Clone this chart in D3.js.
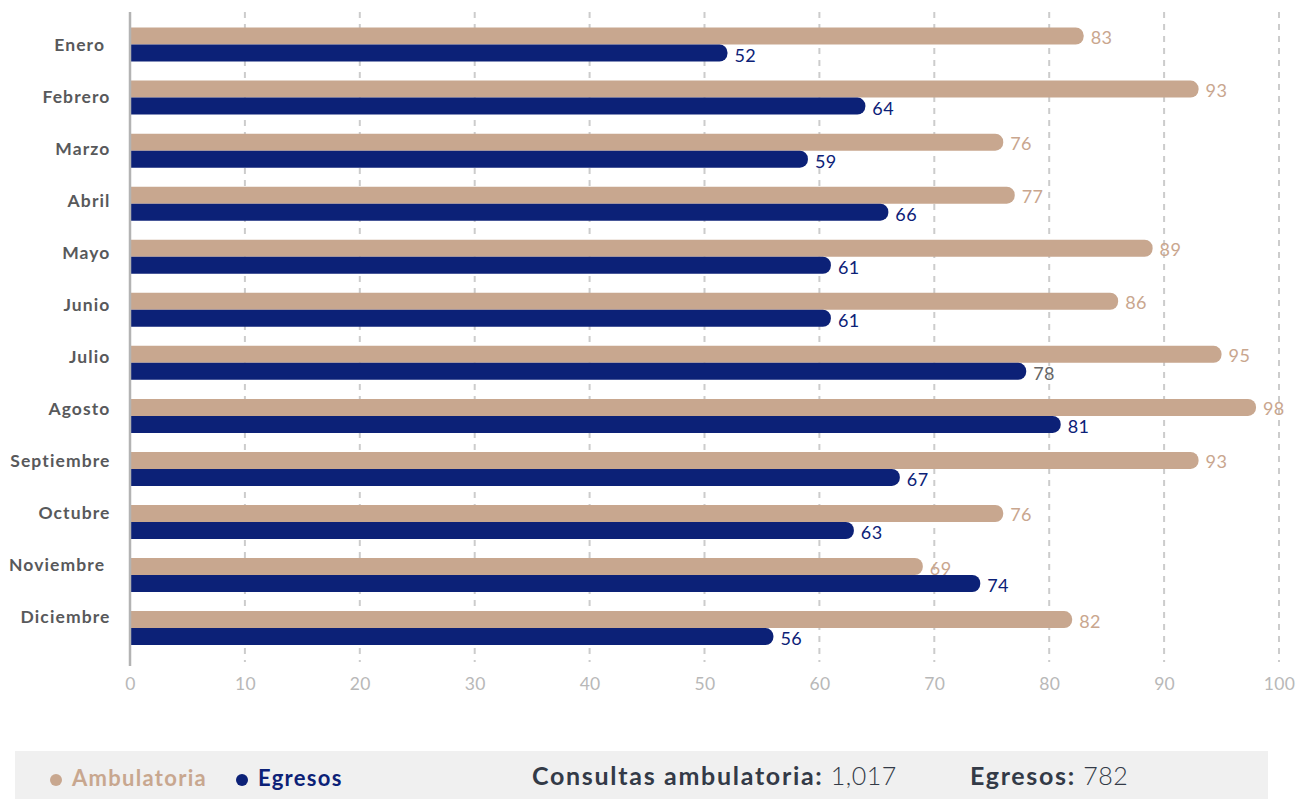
<!DOCTYPE html>
<html>
<head>
<meta charset="utf-8">
<script src="https://cdn.jsdelivr.net/npm/d3@7"></script>
<style>
  html, body { margin: 0; padding: 0; background: #fff; }
  svg { display: block; font-family: Lato, "Open Sans", sans-serif; }
  .cat { white-space: pre; }
</style>
</head>
<body>
<svg id="chart" width="1305" height="799"></svg>
<script>
const months = ["Enero ", "Febrero", "Marzo", "Abril", "Mayo", "Junio", "Julio", "Agosto", "Septiembre", "Octubre", "Noviembre ", "Diciembre"];
const ambulatoria = [83, 93, 76, 77, 89, 86, 95, 98, 93, 76, 69, 82];
const egresos = [52, 64, 59, 66, 61, 61, 78, 81, 67, 63, 74, 56];
const xTicks = [0, 10, 20, 30, 40, 50, 60, 70, 80, 90, 100];
const seriesNames = ["Ambulatoria", "Egresos"];
const totalLabels = ["Consultas ambulatoria:", "Egresos:"];

const TAN = "#c8a78f", NAVY = "#0c2177", LABEL_TAN = "#c9a68e";

const svg = d3.select("#chart");

const x = d3.scaleLinear().domain([0, 100]).range([130, 1279]);
const y = d3.scaleBand().domain(months).range([18, 654.6]).padding(0);
const yLab = d3.scalePoint().domain(months).range([45, 617]);
const barH = 17;

// gridlines
svg.append("g").selectAll("line").data(xTicks.filter(d => d > 0)).join("line")
  .attr("x1", d => x(d)).attr("x2", d => x(d))
  .attr("y1", 12).attr("y2", 662)
  .attr("stroke", "#cccccc").attr("stroke-width", 2)
  .attr("stroke-dasharray", "6,6");

// x axis tick labels
const xAxis = d3.axisBottom(x).tickValues(xTicks).tickSize(0).tickPadding(0);
const gx = svg.append("g").attr("transform", "translate(0,678)").call(xAxis);
gx.select(".domain").remove();
gx.selectAll("text").attr("font-size", 17.5).attr("fill", "#b8b8b8")
  .attr("font-family", "Lato, sans-serif").attr("font-weight", 400)
  .attr("letter-spacing", 0.3);

// bar path with rounded right end
function barPath(x0, x1, yTop, h, r) {
  r = Math.min(r, (x1 - x0));
  return `M${x0},${yTop}H${x1 - r}A${r},${r} 0 0 1 ${x1},${yTop + r}V${yTop + h - r}A${r},${r} 0 0 1 ${x1 - r},${yTop + h}H${x0}Z`;
}

const rows = months.map((m, i) => ({ m, a: ambulatoria[i], e: egresos[i], i }));

const g = svg.append("g");
// ambulatoria bars
g.selectAll(".ba").data(rows).join("path").attr("class", "ba")
  .attr("d", d => barPath(x(0), x(d.a), y(d.m) + y.bandwidth() / 2 - barH, barH, 8))
  .attr("fill", TAN);
// egresos bars
g.selectAll(".be").data(rows).join("path").attr("class", "be")
  .attr("d", d => barPath(x(0), x(d.e), y(d.m) + y.bandwidth() / 2, barH, 8))
  .attr("fill", NAVY);

// value labels
g.selectAll(".la").data(rows).join("text").attr("class", "la")
  .attr("x", d => x(d.a) + 7)
  .attr("y", d => y(d.m) + y.bandwidth() / 2 - barH / 2 + 8)
  .attr("font-size", 18).attr("fill", LABEL_TAN).attr("font-weight", 400)
  .attr("letter-spacing", 0.4)
  .text(d => d.a);
g.selectAll(".le").data(rows).join("text").attr("class", "le")
  .attr("x", d => x(d.e) + 7)
  .attr("y", d => y(d.m) + y.bandwidth() / 2 + barH / 2 + 8.5)
  .attr("font-size", 18).attr("fill", d => d.i === 6 ? "#666666" : NAVY).attr("font-weight", 400)
  .attr("letter-spacing", 0.4)
  .text(d => d.e);

// category labels
g.selectAll(".cat").data(rows).join("text").attr("class", "cat")
  .attr("x", 110.5).attr("y", d => yLab(d.m) + 6.3)
  .attr("text-anchor", "end")
  .attr("font-size", 17.5).attr("font-weight", 700).attr("fill", "#58595b")
  .attr("letter-spacing", 1.1)
  .text(d => d.m);

// y axis line
svg.append("line").attr("x1", x(0)).attr("x2", x(0)).attr("y1", 12).attr("y2", 666)
  .attr("stroke", "#b3b3b3").attr("stroke-width", 2.5);

// legend box
svg.append("rect").attr("x", 15).attr("y", 751).attr("width", 1253).attr("height", 48)
  .attr("fill", "#f0f0f0");

const leg = svg.append("g");
const legItems = [
  { name: seriesNames[0], color: TAN, cx: 56, tx: 72 },
  { name: seriesNames[1], color: NAVY, cx: 242, tx: 258 }
];
leg.selectAll("circle").data(legItems).join("circle")
  .attr("cx", d => d.cx).attr("cy", 780).attr("r", 6).attr("fill", d => d.color);
leg.selectAll("text").data(legItems).join("text")
  .attr("x", d => d.tx).attr("y", 786)
  .attr("font-size", 22).attr("font-weight", 700).attr("fill", d => d.color)
  .attr("letter-spacing", 1.3)
  .text(d => d.name);

const totals = [
  { label: totalLabels[0], value: d3.format(",")(d3.sum(ambulatoria)), x: 532 },
  { label: totalLabels[1], value: d3.format(",")(d3.sum(egresos)), x: 970 }
];
totals.forEach(t => {
  const tx = svg.append("text").attr("x", t.x).attr("y", 785)
    .attr("font-size", 25).attr("fill", "#333a47");
  tx.append("tspan").attr("font-weight", 700).attr("letter-spacing", 1.7).text(t.label);
  tx.append("tspan").attr("font-weight", 300).attr("letter-spacing", 0.5).text(" " + t.value);
});
</script>
</body>
</html>
